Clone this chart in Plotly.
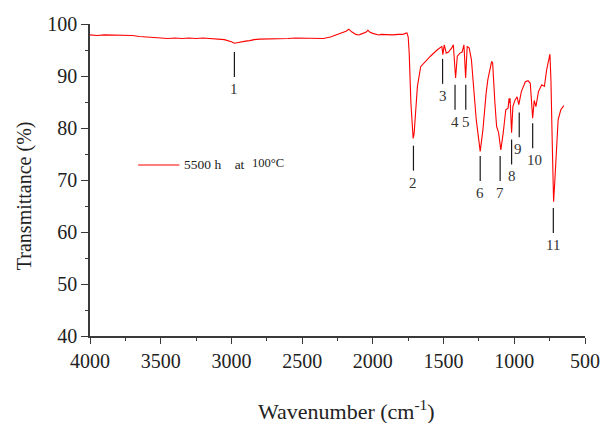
import plotly.graph_objects as go

# FTIR spectrum: wavenumber (cm-1) and transmittance (%)
wavenumber = [
    4000, 3950, 3900, 3850, 3800, 3750, 3700, 3650, 3600, 3550, 3500, 3450,
    3400, 3350, 3300, 3250, 3200, 3150, 3100, 3050, 3000, 2980, 2960, 2930,
    2900, 2870, 2840, 2800, 2750, 2700, 2650, 2600, 2550, 2500, 2450, 2400,
    2350, 2300, 2260, 2220, 2190, 2170, 2150, 2120, 2100, 2080, 2050, 2035,
    2020, 2000, 1980, 1960, 1940, 1900, 1860, 1820, 1790, 1770, 1759, 1750,
    1743, 1731, 1722, 1715, 1708, 1697, 1685, 1662, 1639, 1593, 1546, 1512,
    1505, 1495, 1481, 1465, 1442, 1431, 1415, 1403, 1384, 1369, 1356, 1344,
    1333, 1319, 1303, 1287, 1269, 1241, 1222, 1199, 1187, 1160, 1153, 1137,
    1125, 1111, 1095, 1078, 1060, 1044, 1037, 1034, 1030, 1019, 1010, 996,
    980, 968, 950, 922, 903, 887, 870, 859, 847, 829, 806, 787, 771, 748,
    741, 731, 722, 713, 701, 690, 671, 650,
]
transmittance = [
    97.9, 97.8, 97.9, 97.9, 97.8, 97.9, 97.8, 97.6, 97.5, 97.3, 97.3, 97.2,
    97.3, 97.2, 97.3, 97.2, 97.3, 97.2, 97.2, 97.0, 96.6, 96.3, 96.4, 96.6,
    96.7, 96.8, 97.0, 97.1, 97.1, 97.1, 97.2, 97.2, 97.3, 97.3, 97.3, 97.2,
    97.2, 97.5, 97.9, 98.3, 98.6, 99.0, 98.5, 98.0, 97.9, 98.1, 98.4, 98.8,
    98.4, 98.2, 98.1, 97.9, 98.0, 97.9, 97.9, 98.0, 98.0, 98.2, 98.3, 97.5,
    94.4, 84.8, 80.0, 78.0, 79.0, 82.9, 88.0, 91.8, 92.5, 93.8, 95.0, 95.7,
    94.1, 96.0, 94.4, 94.6, 95.4, 96.0, 89.6, 93.8, 94.4, 94.6, 96.0, 89.6,
    95.7, 95.4, 93.1, 88.0, 81.6, 75.5, 79.6, 86.7, 89.3, 92.8, 92.5, 84.8,
    80.3, 79.1, 75.8, 79.1, 83.5, 83.8, 85.7, 84.8, 85.7, 79.1, 84.1, 85.3,
    86.0, 84.5, 87.0, 88.9, 89.1, 88.6, 81.9, 85.3, 84.1, 87.0, 88.3, 88.0,
    91.2, 94.2, 89.3, 76.4, 65.8, 70.0, 76.4, 81.6, 83.5, 84.3,
]

# Assigned absorption bands
peak_labels = ["1", "2", "3", "4", "5", "6", "7", "8", "9", "10", "11"]
peak_wavenumber = [2979, 1713, 1507, 1419, 1343, 1241, 1100, 1019, 965, 870, 724]

# Marker geometry for each band label (top of stem, stem length, text gap)
stem_top = [94.6, 76.6, 93.3, 88.3, 88.3, 74.6, 74.6, 77.8, 83.0, 80.9, 64.6]
stem_len = 4.8
text_gap = 2.3
text_dx = [0, 0, 0, 0, 0, 0, 0, 0, 8, -12, 0]

series_name = "5500 h&nbsp;&nbsp;&nbsp;&nbsp;at"
series_temp = "100°C"
x_title = "Wavenumber (cm<sup>-1</sup>)"
y_title = "Transmittance (%)"

serif = "Liberation Serif, Times New Roman, serif"
axis_color = "#3a3a3a"
text_color = "#222222"

# plot area in pixels
L, R, T, B = 90, 18, 24, 87
W, H = 612, 423
PW, PH = W - L - R, H - T - B


def px(x):
    return (x - L) / PW


def py(y):
    return (H - B - y) / PH


fig = go.Figure()
fig.add_trace(go.Scatter(
    x=wavenumber, y=transmittance, mode="lines",
    line=dict(color="#ff0000", width=1.1),
    showlegend=False,
))

shapes = []
annotations = []
for lab, wn, top, dx in zip(peak_labels, peak_wavenumber, stem_top, text_dx):
    shapes.append(dict(
        type="line", xref="x", yref="y", x0=wn, x1=wn,
        y0=top, y1=top - stem_len,
        line=dict(color="#1a1a1a", width=1.2),
    ))
    annotations.append(dict(
        x=wn + dx, y=top - stem_len - text_gap, xref="x", yref="y",
        text=lab, showarrow=False, yanchor="middle", xanchor="center",
        font=dict(family=serif, size=15, color="#333333"),
    ))

# Legend entry
shapes.append(dict(
    type="line", xref="paper", yref="paper",
    x0=px(139), x1=px(181), y0=py(165), y1=py(165),
    line=dict(color="#ff0000", width=1.1),
))
annotations.append(dict(
    x=px(184), y=py(165), xref="paper", yref="paper",
    text=series_name, showarrow=False, xanchor="left", yanchor="middle",
    font=dict(family=serif, size=13.5, color=text_color),
))
annotations.append(dict(
    x=px(253), y=py(162.5), xref="paper", yref="paper",
    text=series_temp, showarrow=False, xanchor="left", yanchor="middle",
    font=dict(family=serif, size=12.5, color=text_color),
))

# Axis titles
annotations.append(dict(
    x=px(351), y=py(410), xref="paper", yref="paper",
    text=x_title, showarrow=False, xanchor="center", yanchor="middle",
    font=dict(family=serif, size=22, color=text_color),
))
annotations.append(dict(
    x=px(23), y=py(196), xref="paper", yref="paper",
    text=y_title, showarrow=False, xanchor="center", yanchor="middle",
    textangle=-90,
    font=dict(family=serif, size=20, color=text_color),
))

fig.update_layout(
    width=W, height=H,
    margin=dict(l=L, r=R, t=T, b=B),
    paper_bgcolor="white", plot_bgcolor="white",
    shapes=shapes, annotations=annotations,
    font=dict(family=serif, color=text_color),
)
fig.update_xaxes(
    range=[4000, 500], tickmode="array",
    tickvals=[4000, 3500, 3000, 2500, 2000, 1500, 1000, 500],
    ticks="outside", ticklen=6, tickwidth=1.2, tickcolor=axis_color,
    showline=True, linecolor=axis_color, linewidth=1.5,
    showgrid=False, zeroline=False,
    tickfont=dict(family=serif, size=20, color=text_color),
    minor=dict(dtick=250, ticks="outside", ticklen=3, tickcolor=axis_color, showgrid=False),
)
fig.update_yaxes(
    range=[40, 100], dtick=10,
    ticks="outside", ticklen=7, tickwidth=1.2, tickcolor=axis_color,
    showline=True, linecolor=axis_color, linewidth=1.5,
    showgrid=False, zeroline=False,
    tickfont=dict(family=serif, size=20, color=text_color),
    minor=dict(dtick=5, ticks="outside", ticklen=3.5, tickcolor=axis_color, showgrid=False),
)

fig.write_html("out.html")
